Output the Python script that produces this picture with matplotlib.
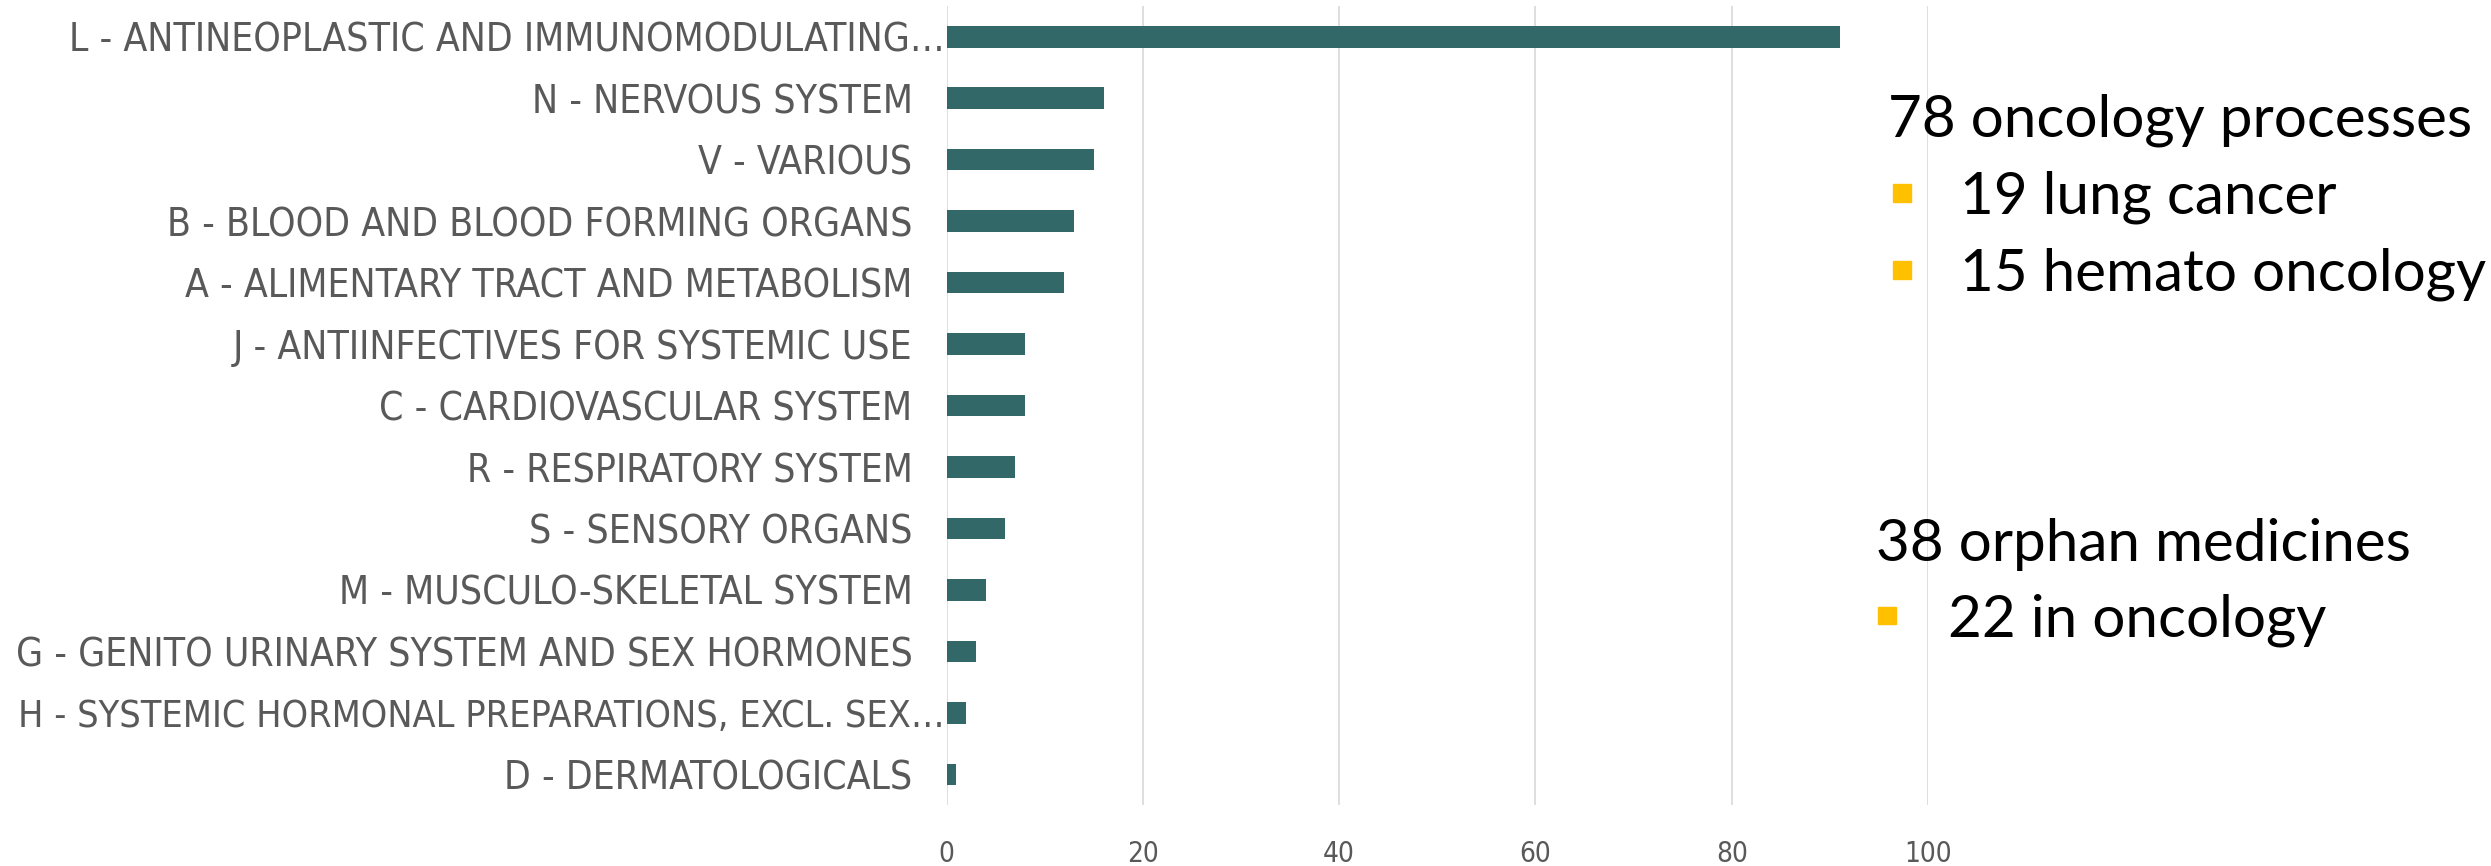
import numpy as np
import matplotlib.pyplot as plt
from matplotlib.transforms import ScaledTranslation
from matplotlib.patches import Rectangle

# ATC groups and counts (top to bottom)
groups = [
    'L - ANTINEOPLASTIC AND IMMUNOMODULATING…',
    'N - NERVOUS SYSTEM',
    'V - VARIOUS',
    'B - BLOOD AND BLOOD FORMING ORGANS',
    'A - ALIMENTARY TRACT AND METABOLISM',
    'J - ANTIINFECTIVES FOR SYSTEMIC USE',
    'C - CARDIOVASCULAR SYSTEM',
    'R - RESPIRATORY SYSTEM',
    'S - SENSORY ORGANS',
    'M - MUSCULO-SKELETAL SYSTEM',
    'G - GENITO URINARY SYSTEM AND SEX HORMONES',
    'H - SYSTEMIC HORMONAL PREPARATIONS, EXCL. SEX…',
    'D - DERMATOLOGICALS',
]
counts = [91, 16, 15, 13, 12, 8, 8, 7, 6, 4, 3, 2, 1]
x_ticks = [0, 20, 40, 60, 80, 100]

# side notes
notes_head = ['78 oncology processes', '38 orphan medicines']
notes_sub = [['19 lung cancer', '15 hemato oncology'], ['22 in oncology']]

fig = plt.figure(figsize=(24.91, 8.66), dpi=100)
ax = fig.add_axes([0.380, 0.0704, 0.394, 0.9226])

y = np.arange(len(groups))
ax.barh(y, counts, height=0.35, color='#336869', zorder=3)
ax.set_ylim(len(groups) - 0.5, -0.5)
ax.set_xlim(0, 100)
ax.set_yticks(y)
ax.set_yticklabels(groups, fontsize=28, fontstretch='condensed', color='#595959')
ax.set_xticks(x_ticks)
ax.set_xticklabels([str(t) for t in x_ticks], fontsize=20, fontstretch='condensed',
                   color='#595959')
ax.tick_params(axis='y', length=0, pad=24.5)
ax.tick_params(axis='x', length=0, pad=25)
ax.grid(axis='x', color='#D9D9D9', linewidth=1.2, zorder=0)
for s in ax.spines.values():
    s.set_visible(False)

# truncated labels run up to the axis
shift = ScaledTranslation(0.32, 0, fig.dpi_scale_trans)
for lab in ax.get_yticklabels():
    if lab.get_text().endswith('…'):
        lab.set_transform(lab.get_transform() + shift)
    if lab.get_text().startswith('H -'):
        lab.set_fontsize(27)

# side notes
note_font = dict(fontsize=42, family='Lato', color='black')
fig.text(0.758, 0.842, notes_head[0], va='baseline', **note_font)
fig.text(0.787, 0.753, notes_sub[0][0], va='baseline', **note_font)
fig.text(0.787, 0.664, notes_sub[0][1], va='baseline', **note_font)
fig.text(0.753, 0.352, notes_head[1], va='baseline', **note_font)
fig.text(0.782, 0.265, notes_sub[1][0], va='baseline', **note_font)

for bx, by in [(0.760, 0.7667), (0.760, 0.678), (0.754, 0.279)]:
    fig.patches.append(Rectangle((bx, by), 0.00703, 0.0204, transform=fig.transFigure,
                                 color='#FFC000', figure=fig))

fig.savefig('out.png', dpi=100)
